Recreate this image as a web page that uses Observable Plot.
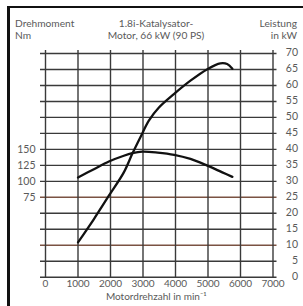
<!DOCTYPE html>
<html>
<head>
<meta charset="utf-8">
<script src="https://cdn.jsdelivr.net/npm/d3@7"></script>
<script src="https://cdn.jsdelivr.net/npm/@observablehq/plot@0.6"></script>
<style>
  html, body { margin: 0; padding: 0; background: #fff; }
  #wrap { position: relative; width: 303px; height: 306px; overflow: hidden; font-family: Lato, "Open Sans", sans-serif; color: #5a5a5a; }
  #frame { position: absolute; left: 7px; top: 6px; width: 310px; height: 320px; border-left: 3px solid #111; border-top: 2.5px solid #111; }
  .hd { position: absolute; top: 16.5px; font-size: 10.2px; line-height: 12.3px; white-space: nowrap; }
  #hl { left: 15px; }
  #hc { left: 156px; transform: translateX(-50%); text-align: center; }
  #hr { right: 6px; text-align: right; }
  #plot { position: absolute; left: 0; top: 0; }
</style>
</head>
<body>
<div id="wrap">
  <div id="frame"></div>
  <div class="hd" id="hl">Drehmoment<br>Nm</div>
  <div class="hd" id="hc">1.8i-Katalysator-<br>Motor, 66 kW (90 PS)</div>
  <div class="hd" id="hr">Leistung<br>in kW</div>
  <div id="plot"></div>
</div>
<script>
// Tick values
const rpmTicks = [0, 1000, 2000, 3000, 4000, 5000, 6000, 7000];
const kwTicks = [0, 5, 10, 15, 20, 25, 30, 35, 40, 45, 50, 55, 60, 65, 70];
const tintedKw = [10, 25];
const nmTicks = [75, 100, 125, 150];

// Power curve (kW) vs engine speed (min^-1)
const powerRpm = [1000, 1490, 1950, 2410, 2670, 2920, 3180, 3490, 3950, 4460, 4980, 5380, 5590, 5750];
const powerKw  = [10.9, 18.2, 25.5, 32.8, 38.6, 43.8, 49.0, 53.1, 57.3, 61.5, 65.1, 66.9, 66.7, 65.2];

// Torque curve (Nm) vs engine speed
const torqueRpm = [1000, 1490, 1950, 2410, 2670, 2980, 3450, 3960, 4460, 4980, 5440, 5750];
const torqueNm  = [106, 119, 131, 140, 144, 146.5, 145, 141.5, 135, 124.5, 114, 107];

// Dual axis: 150 Nm ↔ 40 kW, 75 Nm ↔ 25 kW
const nmToKw = nm => nm / 5 + 10;

const power = powerRpm.map((r, i) => ({rpm: r, v: powerKw[i]}));
const torque = torqueRpm.map((r, i) => ({rpm: r, v: torqueNm[i]}));

const gridColor = "#3a3a3a";
const tintColor = "#7a5242";
const textColor = "#5a5a5a";

const chart = Plot.plot({
  width: 303,
  height: 306,
  marginLeft: 45,
  marginRight: 30.5,
  marginTop: 53,
  marginBottom: 29.3,
  style: {background: "transparent", fontFamily: "Lato, 'Open Sans', sans-serif", fontSize: "10px", color: textColor},
  x: {domain: [0, 7000], label: null},
  y: {domain: [0, 70], label: null},
  marks: [
    Plot.ruleY(kwTicks.filter(d => !tintedKw.includes(d)), {stroke: gridColor, strokeWidth: 1.4, insetLeft: -5, insetRight: -4}),
    Plot.ruleY(tintedKw, {stroke: tintColor, strokeWidth: 1.4, insetLeft: -5, insetRight: -4}),
    Plot.ruleX(rpmTicks, {stroke: gridColor, strokeWidth: 1.4, insetTop: -3, insetBottom: -1}),
    Plot.line(power, {x: "rpm", y: "v", curve: "catmull-rom", stroke: "#111", strokeWidth: 2.3}),
    Plot.line(torque, {x: "rpm", y: d => nmToKw(d.v), curve: "catmull-rom", stroke: "#111", strokeWidth: 2.3}),
    Plot.axisX({ticks: rpmTicks, label: null, tickSize: 0, tickPadding: 3, tickFormat: d => String(d), fill: textColor, fontSize: 10}),
    Plot.axisY({anchor: "left", label: null, ticks: nmTicks.map(nmToKw), tickSize: 0, tickPadding: 10, tickFormat: d => String((d - 10) * 5), fill: textColor, fontSize: 10.5}),
    Plot.axisY({anchor: "right", label: null, ticks: kwTicks, tickSize: 0, tickPadding: 0, textAnchor: "end", dx: 25, dy: -1, tickFormat: d => String(d), fill: textColor, fontSize: 10.5}),
    Plot.text(["Motordrehzahl in min⁻¹"], {frameAnchor: "bottom", dx: -3, dy: 22.5, fill: textColor, fontSize: 10})
  ]
});
chart.style.overflow = "visible";
document.getElementById("plot").appendChild(chart);
</script>
</body>
</html>
